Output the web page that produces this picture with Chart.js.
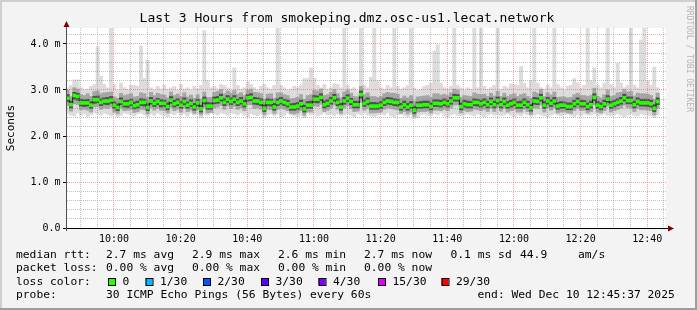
<!DOCTYPE html>
<html>
<head>
<meta charset="utf-8">
<script src="https://cdn.jsdelivr.net/npm/chart.js@4.4.0/dist/chart.umd.min.js"></script>
<style>
	html, body { margin: 0; padding: 0; background: #f3f3f3; }
	canvas { display: block; }
</style>
</head>
<body>
<canvas id="chartView" width="697" height="310"></canvas>
<script>
// rrd window: 09:45:37 -> 12:45:37, one step per minute
var startMinute = 9 * 60 + 45 + 37 / 60;
var endMinute = 12 * 60 + 45 + 37 / 60;
var stepMinutes = 1;

// median rtt per step (ms)
var median = [
	2.82,2.68,2.88,2.86,2.72,2.72,2.72,2.67,2.79,2.79,
	2.73,2.76,2.76,2.78,2.67,2.62,2.75,2.70,2.70,2.73,
	2.66,2.68,2.73,2.73,2.62,2.76,2.71,2.75,2.71,2.71,
	2.64,2.78,2.70,2.73,2.67,2.75,2.67,2.71,2.63,2.72,
	2.59,2.77,2.65,2.65,2.77,2.78,2.83,2.73,2.80,2.75,
	2.80,2.73,2.76,2.70,2.83,2.84,2.76,2.76,2.73,2.60,
	2.73,2.73,2.63,2.73,2.76,2.73,2.70,2.63,2.63,2.65,
	2.70,2.59,2.67,2.67,2.80,2.80,2.84,2.68,2.71,2.76,
	2.83,2.73,2.63,2.76,2.82,2.75,2.68,2.68,2.90,2.71,
	2.75,2.65,2.65,2.65,2.67,2.73,2.76,2.75,2.73,2.73,
	2.63,2.68,2.63,2.67,2.56,2.67,2.67,2.68,2.68,2.64,
	2.71,2.71,2.70,2.73,2.70,2.76,2.83,2.83,2.64,2.70,
	2.68,2.68,2.73,2.73,2.70,2.73,2.68,2.75,2.68,2.77,
	2.68,2.75,2.67,2.70,2.73,2.67,2.67,2.73,2.68,2.61,
	2.76,2.75,2.83,2.67,2.76,2.71,2.76,2.65,2.67,2.67,
	2.64,2.64,2.70,2.75,2.70,2.70,2.64,2.68,2.84,2.67,
	2.64,2.70,2.80,2.67,2.70,2.73,2.76,2.83,2.77,2.77,
	2.68,2.75,2.72,2.72,2.72,2.70,2.60,2.75
];

// smoke: sorted ping levels per step (ms)
var minPing = [
	2.48,2.45,2.44,2.50,2.45,2.48,2.42,2.46,2.50,2.48,
	2.45,2.50,2.47,2.44,2.48,2.42,2.45,2.50,2.48,2.46,
	2.44,2.48,2.50,2.46,2.42,2.48,2.45,2.50,2.47,2.44,
	2.42,2.48,2.46,2.50,2.45,2.48,2.44,2.50,2.46,2.48,
	2.40,2.47,2.45,2.50,2.48,2.46,2.50,2.48,2.45,2.50,
	2.48,2.46,2.50,2.45,2.42,2.48,2.46,2.44,2.48,2.40,
	2.46,2.48,2.44,2.47,2.42,2.45,2.50,2.46,2.44,2.42,
	2.45,2.40,2.50,2.46,2.48,2.44,2.47,2.50,2.46,2.48,
	2.44,2.48,2.44,2.46,2.48,2.45,2.42,2.48,2.46,2.50,
	2.46,2.44,2.42,2.45,2.48,2.46,2.50,2.44,2.42,2.46,
	2.48,2.45,2.42,2.46,2.38,2.40,2.46,2.48,2.45,2.44,
	2.48,2.46,2.50,2.44,2.42,2.46,2.48,2.45,2.44,2.46,
	2.48,2.46,2.44,2.48,2.45,2.42,2.46,2.48,2.45,2.46,
	2.44,2.46,2.48,2.45,2.42,2.46,2.44,2.48,2.46,2.44,
	2.45,2.48,2.46,2.44,2.42,2.45,2.48,2.46,2.44,2.46,
	2.48,2.45,2.42,2.46,2.44,2.48,2.46,2.45,2.48,2.44,
	2.46,2.48,2.45,2.44,2.46,2.48,2.45,2.42,2.46,2.48,
	2.45,2.44,2.48,2.46,2.45,2.44,2.40,2.46
];
var p10 = [
	2.66,2.54,2.70,2.68,2.57,2.58,2.56,2.52,2.63,2.64,
	2.58,2.61,2.60,2.63,2.52,2.48,2.60,2.55,2.56,2.58,
	2.51,2.53,2.58,2.57,2.48,2.61,2.56,2.60,2.56,2.55,
	2.50,2.62,2.55,2.58,2.52,2.60,2.53,2.56,2.49,2.57,
	2.46,2.62,2.50,2.51,2.61,2.63,2.67,2.58,2.65,2.60,
	2.64,2.58,2.61,2.55,2.68,2.68,2.60,2.61,2.58,2.46,
	2.58,2.57,2.49,2.58,2.61,2.58,2.55,2.49,2.48,2.50,
	2.55,2.45,2.52,2.52,2.65,2.64,2.69,2.53,2.56,2.61,
	2.67,2.58,2.49,2.61,2.66,2.60,2.53,2.54,2.73,2.56,
	2.60,2.50,2.50,2.51,2.52,2.58,2.61,2.60,2.58,2.57,
	2.49,2.53,2.48,2.52,2.43,2.52,2.53,2.53,2.54,2.50,
	2.56,2.56,2.55,2.58,2.55,2.61,2.67,2.68,2.50,2.55,
	2.53,2.54,2.58,2.57,2.55,2.58,2.53,2.60,2.53,2.62,
	2.54,2.60,2.52,2.55,2.58,2.52,2.52,2.58,2.53,2.47,
	2.61,2.60,2.67,2.52,2.61,2.56,2.61,2.50,2.52,2.53,
	2.50,2.49,2.55,2.60,2.55,2.56,2.50,2.53,2.68,2.52,
	2.50,2.55,2.65,2.52,2.55,2.58,2.61,2.67,2.62,2.61,
	2.53,2.60,2.57,2.57,2.56,2.55,2.46,2.60
];
var p25 = [
	2.75,2.61,2.80,2.78,2.65,2.64,2.65,2.60,2.71,2.72,
	2.66,2.69,2.68,2.71,2.60,2.55,2.68,2.63,2.62,2.66,
	2.59,2.61,2.66,2.65,2.55,2.69,2.64,2.68,2.63,2.64,
	2.57,2.71,2.63,2.66,2.60,2.68,2.60,2.64,2.56,2.65,
	2.52,2.70,2.58,2.58,2.70,2.71,2.76,2.66,2.73,2.68,
	2.72,2.66,2.69,2.63,2.76,2.77,2.69,2.68,2.66,2.53,
	2.66,2.65,2.56,2.66,2.69,2.66,2.63,2.56,2.56,2.58,
	2.63,2.52,2.60,2.60,2.73,2.72,2.77,2.61,2.64,2.69,
	2.76,2.66,2.56,2.69,2.75,2.68,2.61,2.61,2.82,2.64,
	2.68,2.58,2.58,2.58,2.60,2.66,2.69,2.68,2.66,2.65,
	2.56,2.61,2.56,2.60,2.49,2.60,2.60,2.61,2.61,2.57,
	2.64,2.64,2.63,2.66,2.63,2.69,2.76,2.76,2.57,2.63,
	2.61,2.61,2.66,2.65,2.63,2.66,2.61,2.68,2.61,2.70,
	2.61,2.68,2.60,2.63,2.66,2.60,2.60,2.66,2.61,2.54,
	2.69,2.68,2.76,2.60,2.69,2.64,2.69,2.58,2.60,2.60,
	2.57,2.57,2.63,2.68,2.63,2.63,2.57,2.61,2.77,2.60,
	2.57,2.63,2.73,2.60,2.63,2.66,2.69,2.76,2.70,2.70,
	2.61,2.68,2.65,2.65,2.64,2.63,2.53,2.68
];
var p75 = [
	2.90,2.76,2.95,2.93,2.80,2.79,2.80,2.75,2.86,2.87,
	2.81,2.83,2.84,2.86,2.74,2.70,2.83,2.77,2.78,2.80,
	2.74,2.76,2.81,2.80,2.70,2.84,2.78,2.82,2.79,2.78,
	2.72,2.86,2.78,2.81,2.75,2.83,2.74,2.79,2.71,2.80,
	2.67,2.85,2.73,2.72,2.85,2.86,2.91,2.81,2.88,2.83,
	2.88,2.80,2.84,2.78,2.90,2.92,2.84,2.83,2.81,2.68,
	2.81,2.80,2.71,2.81,2.84,2.80,2.78,2.70,2.71,2.73,
	2.78,2.67,2.75,2.76,2.88,2.87,2.92,2.76,2.79,2.84,
	2.91,2.81,2.71,2.84,2.90,2.82,2.76,2.75,2.98,2.79,
	2.83,2.73,2.73,2.72,2.75,2.81,2.84,2.83,2.81,2.80,
	2.71,2.76,2.71,2.75,2.64,2.74,2.75,2.76,2.76,2.72,
	2.79,2.79,2.78,2.81,2.78,2.84,2.91,2.90,2.72,2.78,
	2.76,2.75,2.81,2.80,2.78,2.81,2.76,2.83,2.76,2.85,
	2.75,2.83,2.75,2.78,2.81,2.75,2.76,2.81,2.76,2.69,
	2.84,2.83,2.91,2.75,2.84,2.79,2.84,2.73,2.75,2.74,
	2.72,2.72,2.78,2.83,2.78,2.77,2.72,2.76,2.92,2.75,
	2.72,2.78,2.88,2.75,2.78,2.81,2.84,2.91,2.85,2.85,
	2.76,2.83,2.80,2.80,2.80,2.78,2.68,2.83
];
var p90 = [
	3.00,2.86,3.05,3.02,2.90,2.88,2.92,2.86,2.97,2.98,
	2.92,2.94,2.95,2.96,2.85,2.82,2.93,2.88,2.90,2.92,
	2.85,2.86,2.94,2.92,2.84,2.95,2.88,2.93,2.90,2.89,
	2.83,2.96,2.88,2.91,2.86,2.94,2.85,2.89,2.82,2.90,
	2.80,2.96,2.84,2.84,2.95,2.97,3.01,2.92,2.98,2.93,
	2.99,2.91,2.94,2.88,3.00,3.02,2.95,2.94,2.92,2.80,
	2.91,2.92,2.82,2.94,2.94,2.90,2.88,2.81,2.82,2.84,
	2.90,2.80,2.88,2.90,2.99,2.98,3.02,2.88,2.90,2.95,
	3.01,2.92,2.83,2.96,3.00,2.93,2.86,2.85,3.08,2.90,
	2.94,2.86,2.86,2.84,2.86,2.92,2.95,2.93,2.93,2.91,
	2.82,2.87,2.83,2.88,2.76,2.85,2.86,2.87,2.88,2.84,
	2.92,2.92,2.89,2.91,2.88,2.94,3.02,3.00,2.84,2.88,
	2.87,2.86,2.94,2.91,2.90,2.91,2.86,2.93,2.87,2.97,
	2.86,2.93,2.86,2.90,2.92,2.86,2.90,2.92,2.86,2.82,
	2.96,2.93,3.01,2.86,2.94,2.89,2.96,2.84,2.85,2.85,
	2.83,2.84,2.90,2.93,2.88,2.88,2.86,2.88,3.04,2.86,
	2.83,2.90,3.00,2.86,2.88,2.94,2.95,3.01,2.96,2.97,
	2.87,2.93,2.92,2.92,2.91,2.88,2.80,2.93
];
var maxPing = [
	3.05,3.10,3.22,3.22,3.05,3.00,3.02,3.08,3.12,3.94,
	3.30,3.12,3.05,4.45,3.12,3.00,3.15,3.05,3.02,3.10,
	3.10,3.08,3.96,3.25,3.65,3.05,3.00,3.08,3.02,3.10,
	3.02,3.05,3.08,3.00,3.12,3.02,3.05,3.00,3.08,3.02,
	3.10,4.29,3.20,3.05,3.08,3.02,3.12,3.10,3.05,3.00,
	3.48,3.10,3.02,3.05,3.18,3.12,3.05,3.00,3.08,3.12,
	3.05,3.02,3.10,4.45,3.10,3.05,3.00,3.02,3.08,3.05,
	3.10,3.25,3.25,3.48,3.26,3.10,3.05,3.12,3.02,3.05,
	3.14,3.12,3.05,4.45,3.10,3.02,3.05,2.98,4.45,3.10,
	3.05,3.28,4.45,3.20,3.05,3.02,3.10,3.05,4.45,3.08,
	3.02,3.05,3.10,4.45,3.05,3.00,3.02,3.08,3.10,3.15,
	3.85,3.98,3.15,3.05,3.02,3.08,4.45,3.10,3.05,3.00,
	3.05,3.02,4.45,3.05,4.45,3.08,3.02,3.05,3.10,4.45,
	3.02,3.08,3.05,3.13,3.12,3.10,3.51,3.15,3.05,3.20,
	4.45,3.15,3.05,3.02,3.10,3.05,4.45,3.12,3.05,3.00,
	3.08,3.10,3.25,3.15,3.05,3.10,4.45,3.20,3.48,3.10,
	3.05,3.15,4.45,3.12,3.05,3.58,3.15,3.05,3.10,4.45,
	3.10,3.05,4.09,4.45,3.20,3.10,3.50,3.05
];

var yTicks = [0, 1, 2, 3, 4];
var yTickLabels = ['0.0', '1.0 m', '2.0 m', '3.0 m', '4.0 m'];

var titleText = 'Last 3 Hours from smokeping.dmz.osc-us1.lecat.network';
var lossColors = ['#26ff00', '#00b8ff', '#0059ff', '#5e00ff', '#7e00ff', '#dd00ff', '#ff0000'];
var lossLabels = ['0', '1/30', '2/30', '3/30', '4/30', '15/30', '29/30'];

var chart;
var xValues = median.map((m, i) => startMinute + (i + 0.5) * stepMinutes);

var majorGrid = 'rgba(235,90,90,0.55)';
var minorGrid = 'rgba(140,140,140,0.55)';

function band(lo, hi, color, order) {
	return {
		type: 'bar',
		label: 'smoke ' + order,
		data: lo.map((v, i) => ({ x: xValues[i], y: [v, hi[i]] })),
		backgroundColor: color,
		borderWidth: 0,
		grouped: false,
		barPercentage: 1,
		categoryPercentage: 1,
		clip: 0,
		order: order
	};
}

function isMajorY(v) {
	return Math.abs(v - Math.round(v)) < 1e-6;
}

function hhmm(v) {
	var h = Math.floor(v / 60), m = Math.round(v % 60);
	return h + ':' + (m < 10 ? '0' + m : m);
}

var rrdFrame = {
	id: 'rrdFrame',
	beforeDraw: function (c) {
		var g = c.ctx, a = c.chartArea;
		g.save();
		g.fillStyle = '#f3f3f3';
		g.fillRect(0, 0, c.width, c.height);
		g.fillStyle = '#ffffff';
		g.fillRect(a.left, a.top, a.right - a.left, a.bottom - a.top);
		g.restore();
	},
	afterDraw: function (c) {
		var g = c.ctx, a = c.chartArea;
		var W = c.width, H = c.height;
		g.save();

		// 3d frame
		g.fillStyle = '#cfcfcf';
		g.fillRect(0, 0, W, 2);
		g.fillRect(0, 0, 2, H);
		g.fillStyle = '#9e9e9e';
		g.fillRect(W - 2, 0, 2, H);
		g.fillRect(0, H - 2, W, 2);

		// axes + arrows
		g.strokeStyle = '#000';
		g.lineWidth = 1;
		g.beginPath();
		g.moveTo(a.left - 3, a.bottom + 0.5);
		g.lineTo(a.right + 3, a.bottom + 0.5);
		g.stroke();
		g.strokeStyle = '#505050';
		g.beginPath();
		g.moveTo(a.left + 0.5, a.bottom + 3);
		g.lineTo(a.left + 0.5, a.top - 4);
		g.stroke();
		g.fillStyle = '#7f0000';
		g.beginPath();
		g.moveTo(a.right + 2, a.bottom - 2.5);
		g.lineTo(a.right + 8, a.bottom + 0.5);
		g.lineTo(a.right + 2, a.bottom + 3.5);
		g.closePath();
		g.fill();
		g.beginPath();
		g.moveTo(a.left - 2.5, a.top - 1);
		g.lineTo(a.left + 0.5, a.top - 7);
		g.lineTo(a.left + 3.5, a.top - 1);
		g.closePath();
		g.fill();

		// title
		g.fillStyle = '#000';
		g.textBaseline = 'middle';
		g.textAlign = 'center';
		g.font = '13px "DejaVu Sans Mono"';
		g.fillText(titleText, 347, 19);

		// vertical labels
		g.save();
		g.translate(11, 128);
		g.rotate(-Math.PI / 2);
		g.font = '11px "DejaVu Sans Mono"';
		g.fillText('Seconds', 0, 0);
		g.restore();

		g.save();
		g.translate(689, 59);
		g.rotate(Math.PI / 2);
		g.fillStyle = '#b4b4b4';
		g.font = '8px "DejaVu Sans Mono"';
		g.fillText('RRDTOOL / TOBI OETIKER', 0, 0);
		g.restore();

		// legend rows
		g.textAlign = 'left';
		g.font = '11.3px "DejaVu Sans Mono"';
		var rows = [
			[255, [[16, 'median rtt:'], [106, '2.7 ms avg'], [192, '2.9 ms max'], [278, '2.6 ms min'],
				[364, '2.7 ms now'], [450.5, '0.1 ms sd'], [520, '44.9'], [578, 'am/s']]],
			[268.5, [[16, 'packet loss:'], [106, '0.00 % avg'], [192, '0.00 % max'], [278, '0.00 % min'],
				[364, '0.00 % now']]],
			[282, [[16, 'loss color:']]],
			[295.5, [[16, 'probe:'], [106, '30 ICMP Echo Pings (56 Bytes) every 60s'],
				[477.5, 'end: Wed Dec 10 12:45:37 2025']]]
		];
		rows.forEach(function (r) {
			r[1].forEach(function (t) { g.fillText(t[1], t[0], r[0]); });
		});
		var swatchX = [108, 145.5, 203, 261, 318.5, 378, 441.5];
		lossLabels.forEach(function (lab, i) {
			var sx = swatchX[i];
			g.fillStyle = lossColors[i];
			g.fillRect(sx, 278, 7, 7);
			g.strokeStyle = '#000';
			g.strokeRect(sx + 0.5, 278.5, 7, 7);
			g.fillStyle = '#000';
			g.fillText(lab, sx + 14.5, 282);
		});

		g.restore();
	}
};

var ctx = document.getElementById('chartView').getContext('2d');

chart = new Chart(ctx, {
	type: 'bar',
	data: {
		datasets: [
			{
				type: 'bar',
				label: 'median',
				data: median.map((m, i) => ({ x: xValues[i], y: [m - 0.032, m + 0.032] })),
				backgroundColor: lossColors[0],
				borderWidth: 0,
				grouped: false,
				barPercentage: 1,
				categoryPercentage: 1,
				clip: 0,
				order: 0
			},
			{
				type: 'line',
				label: 'median line',
				data: median.map((m, i) => ({ x: xValues[i], y: m })),
				stepped: 'middle',
				borderColor: '#1e1e1e',
				borderWidth: 1,
				pointRadius: 0,
				fill: false,
				clip: 0,
				order: 1
			},
			band(p25, p75, '#505050', 2),
			band(p10, p90, '#a6a6a6', 3),
			band(minPing, maxPing, '#dcdcdc', 4)
		]
	},
	options: {
		responsive: false,
		animation: false,
		events: [],
		layout: { padding: { left: 0, top: 28, right: 31, bottom: 62 } },
		plugins: {
			legend: { display: false },
			tooltip: { enabled: false }
		},
		scales: {
			x: {
				type: 'linear',
				min: startMinute,
				max: endMinute,
				offset: false,
				afterFit: function (s) { s.height = 20; },
				afterBuildTicks: function (s) {
					var t = [];
					for (var v = 590; v < endMinute; v += 5) t.push({ value: v });
					s.ticks = t;
				},
				grid: {
					offset: false,
					z: 1,
					drawTicks: false,
					lineWidth: 1,
					color: (c) => c.tick && c.tick.value % 20 === 0 ? majorGrid : minorGrid
				},
				border: { display: true, color: 'rgba(0,0,0,0)', dash: [1, 1] },
				ticks: {
					padding: 5,
					maxRotation: 0,
					autoSkip: false,
					color: '#000',
					font: { family: 'DejaVu Sans Mono', size: 10 },
					callback: (v) => v % 20 === 0 ? hhmm(v) : ''
				}
			},
			y: {
				min: 0,
				max: 200 / 46,
				afterFit: function (s) { s.width = 66; },
				afterBuildTicks: function (s) {
					var t = [];
					for (var k = 0; k <= 21; k++) t.push({ value: k / 5 });
					s.ticks = t;
				},
				grid: {
					z: 1,
					drawTicks: true,
					tickLength: 3,
					lineWidth: 1,
					tickColor: (c) => c.tick && isMajorY(c.tick.value) ? '#000' : 'rgba(0,0,0,0)',
					color: (c) => c.tick && isMajorY(c.tick.value) ? majorGrid : minorGrid
				},
				border: { display: true, color: 'rgba(0,0,0,0)', dash: [1, 1] },
				ticks: {
					padding: 2.5,
					autoSkip: false,
					color: '#000',
					font: { family: 'DejaVu Sans Mono', size: 10 },
					callback: function (v) {
						var i = yTicks.indexOf(Math.round(v));
						return isMajorY(v) && i >= 0 ? yTickLabels[i] : '';
					}
				}
			}
		}
	},
	plugins: [rrdFrame]
});
</script>
</body>
</html>
